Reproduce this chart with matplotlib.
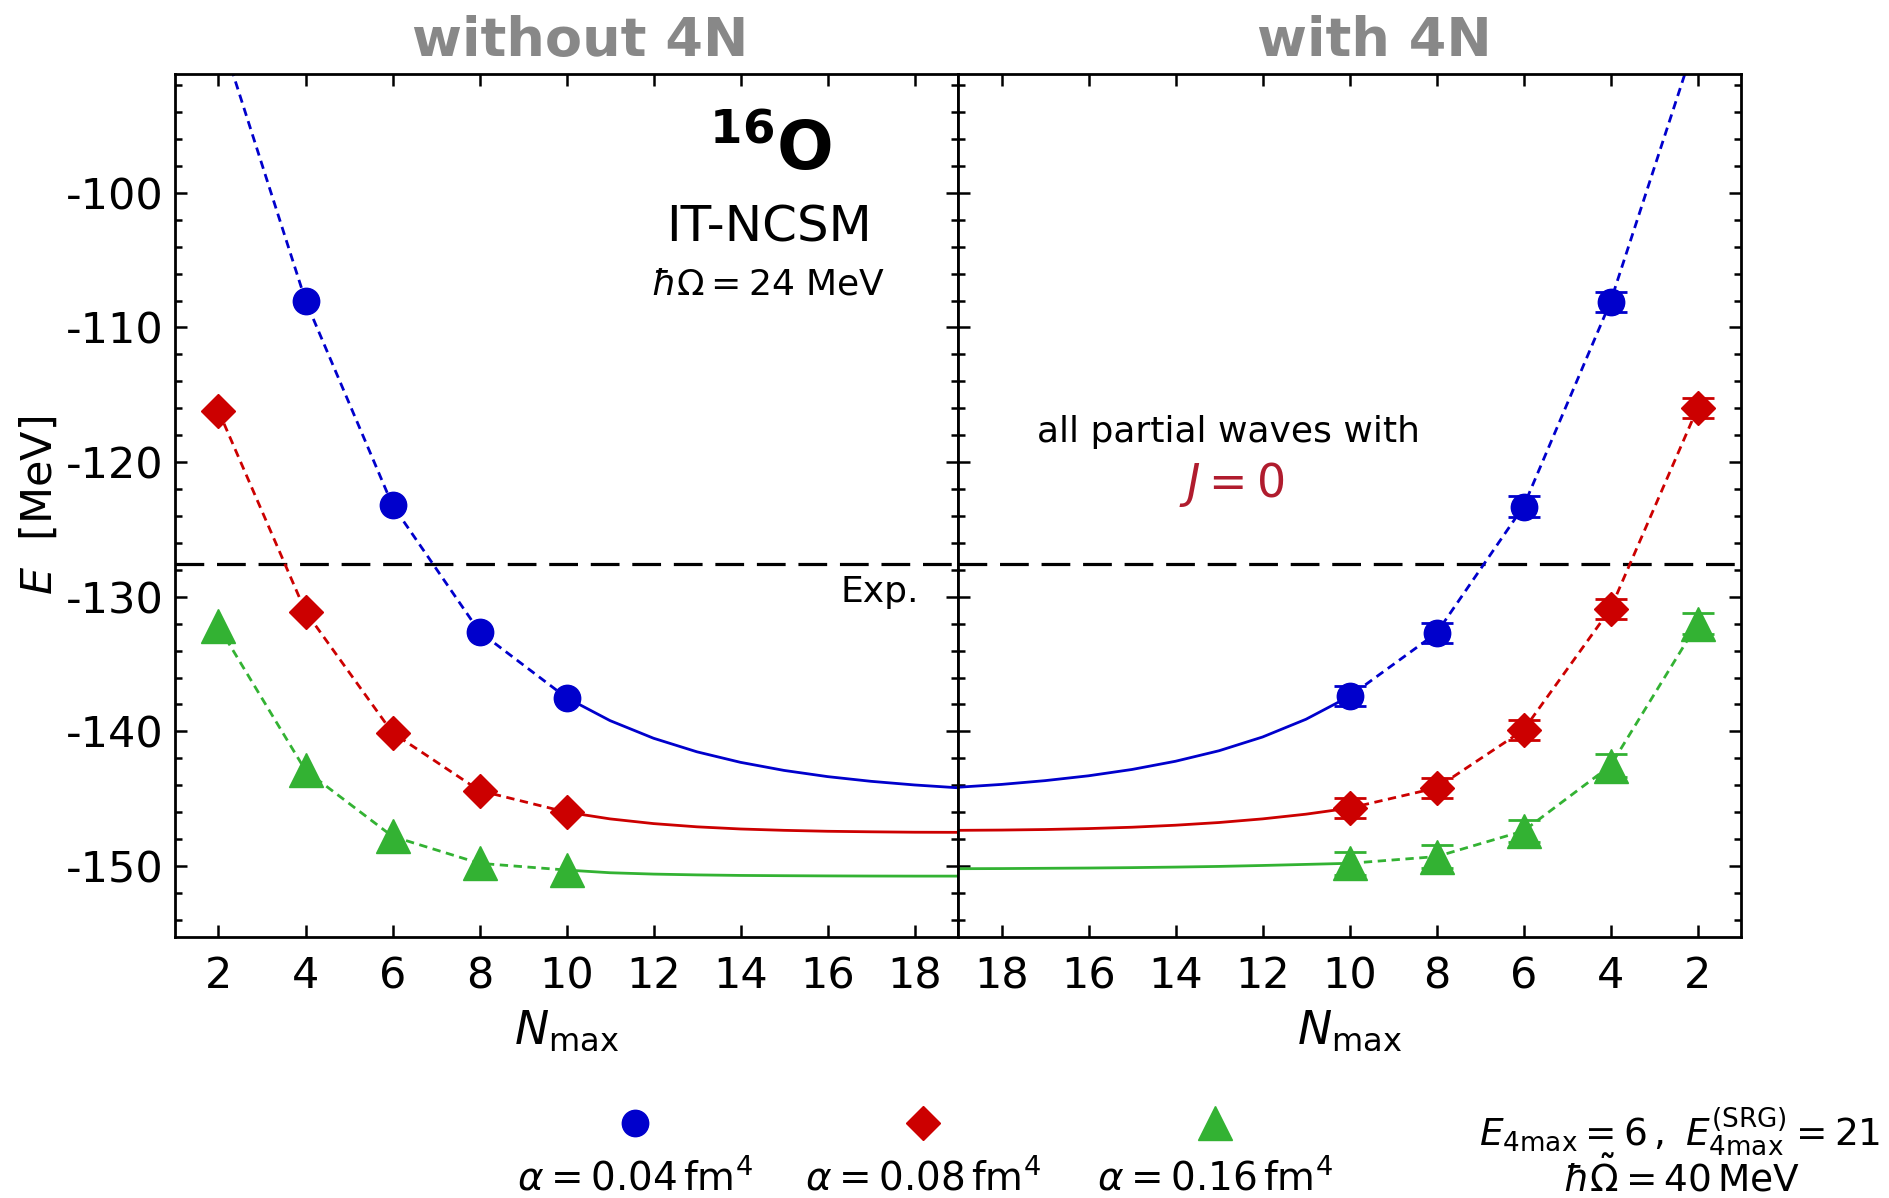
import numpy as np
import matplotlib
matplotlib.use("Agg")
import matplotlib.pyplot as plt
from matplotlib.lines import Line2D
from matplotlib.ticker import MultipleLocator

W, H = 1890, 1198

# ---- data (MeV) ----
N = [2, 4, 6, 8, 10]
N_EXT = [10, 11, 12, 13, 14, 15, 16, 17, 18, 19]
E_EXP = -127.6

# without 4N
wo_a004 = [-87.8, -108.0, -123.2, -132.6, -137.5]
wo_a008 = [-116.2, -131.1, -140.1, -144.4, -146.0]
wo_a016 = [-132.2, -142.9, -147.8, -149.8, -150.3]
wo_ext_a004 = [-137.5, -139.2, -140.51, -141.52, -142.3, -142.9, -143.36, -143.71, -143.98, -144.19]
wo_ext_a008 = [-146.0, -146.5, -146.85, -147.09, -147.25, -147.35, -147.42, -147.46, -147.49, -147.5]
wo_ext_a016 = [-150.3, -150.5, -150.6, -150.66, -150.7, -150.72, -150.735, -150.745, -150.75, -150.75]

# with 4N
w_a004 = [-88.3, -108.1, -123.3, -132.7, -137.4]
w_a008 = [-116.0, -130.9, -139.9, -144.2, -145.7]
w_a016 = [-132.0, -142.55, -147.4, -149.3, -149.8]
w_err_a004 = [0.8, 0.75, 0.75, 0.75, 0.75]
w_err_a008 = [0.75, 0.75, 0.75, 0.75, 0.75]
w_err_a016 = [0.8, 0.85, 0.8, 0.85, 0.85]
w_ext_a004 = [-137.4, -139.1, -140.42, -141.44, -142.22, -142.83, -143.3, -143.66, -143.94, -144.15]
w_ext_a008 = [-145.7, -146.15, -146.5, -146.77, -146.97, -147.12, -147.22, -147.29, -147.33, -147.35]
w_ext_a016 = [-149.8, -149.88, -149.96, -150.03, -150.08, -150.12, -150.15, -150.17, -150.19, -150.2]

ALPHAS = ["0.04", "0.08", "0.16"]
COLORS = ["#0000cc", "#cc0000", "#33b233"]
MARKERS = ["o", "D", "^"]
MSIZES = [19, 17.5, 24]

plt.rcParams.update({
    "font.size": 26,
    "axes.linewidth": 2.0,
    "xtick.direction": "in", "ytick.direction": "in",
    "xtick.top": True, "ytick.right": True,
    "xtick.major.size": 8.6, "ytick.major.size": 8.6,
    "ytick.minor.size": 5, "xtick.major.width": 1.8,
    "ytick.major.width": 1.8, "ytick.minor.width": 1.8,
})

fig = plt.figure(figsize=(W / 100, H / 100), dpi=100)
ax1 = fig.add_axes([175 / W, 1 - 936.7 / H, 783 / W, 862.4 / H])
ax2 = fig.add_axes([958 / W, 1 - 936.7 / H, 783 / W, 862.4 / H])

series_wo = [(wo_a004, wo_ext_a004), (wo_a008, wo_ext_a008), (wo_a016, wo_ext_a016)]
series_w = [(w_a004, w_ext_a004, w_err_a004), (w_a008, w_ext_a008, w_err_a008),
            (w_a016, w_ext_a016, w_err_a016)]

for (e, ext), c, m, ms in zip(series_wo, COLORS, MARKERS, MSIZES):
    ax1.plot(N, e, color=c, lw=2.0, dashes=(3, 2), zorder=2)
    ax1.plot(N_EXT, ext, color=c, lw=2.0, zorder=2)
    ax1.plot(N, e, ls="none", marker=m, ms=ms, color=c, mec=c, zorder=4)

for (e, ext, err), c, m, ms in zip(series_w, COLORS, MARKERS, MSIZES):
    ax2.plot(N, e, color=c, lw=2.0, dashes=(3, 2), zorder=2)
    ax2.plot(N_EXT, ext, color=c, lw=2.0, zorder=2)
    ax2.errorbar(N, e, yerr=err, fmt=m, ms=ms, color=c, mec=c, ecolor=c,
                 elinewidth=2, capsize=11.5, capthick=2, zorder=4)

for ax in (ax1, ax2):
    ax.axhline(E_EXP, color="k", lw=2.3, dashes=(9, 4), zorder=1)
    ax.set_ylim(-155.25, -91.2)
    ax.xaxis.set_major_locator(MultipleLocator(2))
    ax.yaxis.set_major_locator(MultipleLocator(10))
    ax.yaxis.set_minor_locator(MultipleLocator(2))
    ax.tick_params(axis="x", labelsize=31, pad=13.5)
    ax.tick_params(axis="y", labelsize=31, pad=8)
    ax.set_xlabel(r"$N_{\mathrm{max}}$", fontsize=33, labelpad=8)

ax1.set_xlim(1, 19)
ax2.set_xlim(19, 1)
ax2.tick_params(axis="y", labelleft=False)
ax1.set_yticks(np.arange(-150, -90, 10))
ax1.set_yticklabels([str(v) for v in range(-150, -90, 10)])
ax1.set_ylabel(r"$E$  [MeV]", fontsize=31, labelpad=4)

# panel headers
fig.text(580 / W, 1 - 56 / H, "without 4N", fontsize=39, fontweight="bold",
         color="#888888", ha="center", va="baseline")
fig.text(1374 / W, 1 - 56 / H, "with 4N", fontsize=39, fontweight="bold",
         color="#888888", ha="center", va="baseline")

# annotations
ax1.text(0.760, 0.889, r"$\mathbf{^{16}O}$", transform=ax1.transAxes,
         fontsize=48, ha="center", va="baseline")
ax1.text(0.759, 0.806, "IT-NCSM", transform=ax1.transAxes,
         fontsize=36, ha="center", va="baseline")
ax1.text(0.757, 0.745, r"$\hbar\Omega = 24$ MeV", transform=ax1.transAxes,
         fontsize=26, ha="center", va="baseline")
ax1.text(0.950, 0.3885, "Exp.", transform=ax1.transAxes,
         fontsize=26, ha="right", va="baseline")
ax2.text(0.345, 0.574, "all partial waves with", transform=ax2.transAxes,
         fontsize=26, ha="center", va="baseline")
ax2.text(0.349, 0.5104, r"$J = 0$", transform=ax2.transAxes,
         fontsize=33, ha="center", va="baseline", color="#b01c2e")

# legend below the panels: marker on top, label below
leg_x = [635, 923, 1215]
for x, a, c, m, ms in zip(leg_x, ALPHAS, COLORS, MARKERS, MSIZES):
    fig.add_artist(Line2D([x / W], [1 - 1123 / H], marker=m, ms=ms, color=c,
                          mec=c, ls="none", transform=fig.transFigure))
    fig.text(x / W, 1 - 1189 / H, r"$\alpha = %s\,\mathrm{fm}^4$" % a,
             fontsize=28, ha="center", va="baseline")

fig.text(1680 / W, 1 - 1145 / H,
         r"$E_{4\mathrm{max}} = 6\,,\ E_{4\mathrm{max}}^{(\mathrm{SRG})} = 21$",
         fontsize=27, ha="center", va="baseline")
fig.text(1682 / W, 1 - 1191 / H, r"$\hbar\tilde{\Omega} = 40\,\mathrm{MeV}$",
         fontsize=27, ha="center", va="baseline")

fig.savefig("out.png", dpi=100)
